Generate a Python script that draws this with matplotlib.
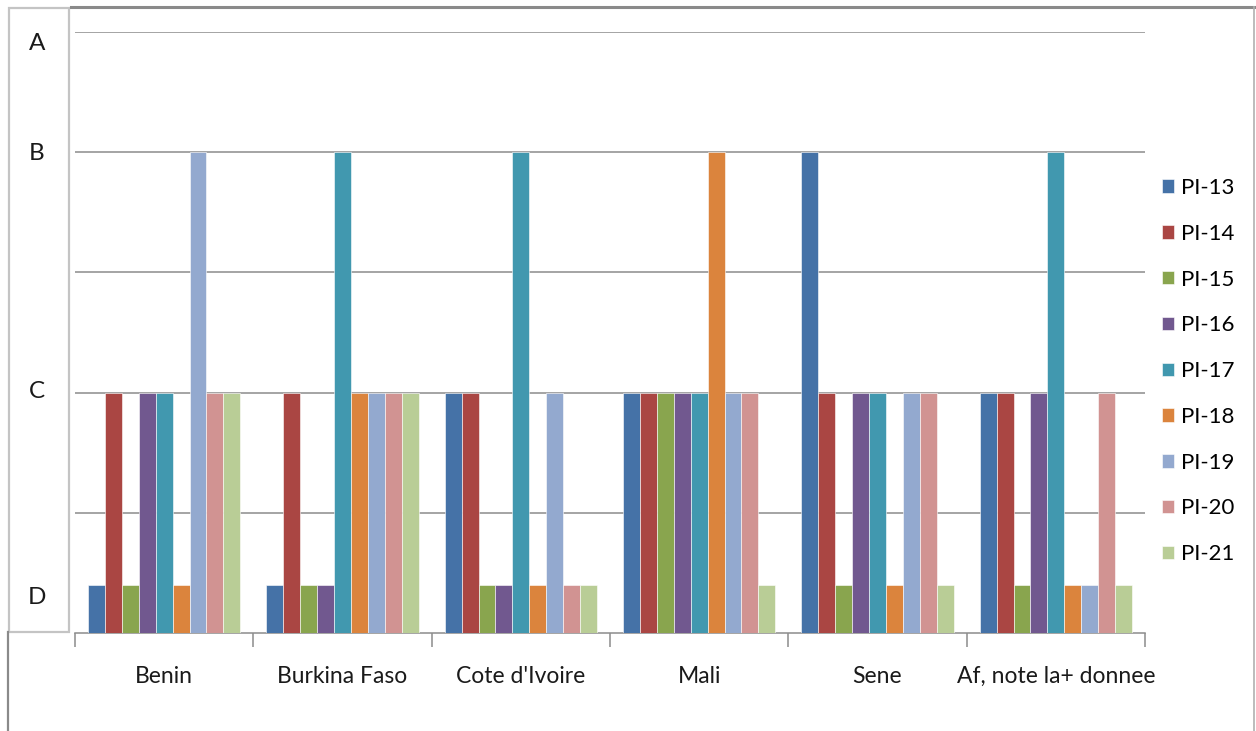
import numpy as np
import matplotlib.pyplot as plt
from matplotlib.lines import Line2D
from matplotlib.patches import Rectangle

plt.rcParams['font.family'] = ['Lato', 'DejaVu Sans']

# grade levels on the numeric scale
D, C, B = 0.4, 2, 4

pays = ['Benin', 'Burkina Faso', "Cote d'Ivoire", 'Mali', 'Sene', 'Af, note la+ donnee']
indicateurs = ['PI-13', 'PI-14', 'PI-15', 'PI-16', 'PI-17', 'PI-18', 'PI-19', 'PI-20', 'PI-21']
couleurs = ['#4572A7', '#AA4643', '#89A54E', '#71588F', '#4198AF',
            '#DB843D', '#93A9CF', '#D19392', '#B9CD96']

# une liste par indicateur, dans l'ordre des pays
pi13 = [D, D, C, C, B, C]
pi14 = [C, C, C, C, C, C]
pi15 = [D, D, D, C, D, D]
pi16 = [C, D, D, C, C, C]
pi17 = [C, B, B, C, C, B]
pi18 = [D, C, D, B, D, D]
pi19 = [B, C, C, C, C, D]
pi20 = [C, C, D, C, C, C]
pi21 = [C, C, D, D, D, D]
series = [pi13, pi14, pi15, pi16, pi17, pi18, pi19, pi20, pi21]

notes = ['A', 'B', 'C', 'D']
notes_y = [44, 153, 392, 597]  # position des lettres (pixels depuis le haut)

W, H = 1256, 731
fig = plt.figure(figsize=(W / 100, H / 100), dpi=100)
ax = fig.add_axes([75 / W, 1 - 633 / H, (1145 - 75) / W, (633 - 32) / H])

x = np.arange(len(pays))
larg = 0.853 / len(series)
for i, (vals, col, lab) in enumerate(zip(series, couleurs, indicateurs)):
    pos = x - 0.853 / 2 + larg * (i + 0.5)
    ax.bar(pos, vals, width=larg, color=col, label=lab, zorder=3,
           edgecolor='#ffffff', linewidth=0.4)

ax.set_xlim(-0.5, len(pays) - 0.5)
ax.set_ylim(0, 5)
ax.set_yticks([1, 2, 3, 4, 5])
ax.yaxis.grid(True, color='#8c8c8c', linewidth=1.1, zorder=0)
ax.tick_params(axis='y', left=False, labelleft=False)

ax.set_xticks(x)
ax.set_xticklabels(pays, fontsize=16.5, color='#1a1a1a')
ax.tick_params(axis='x', length=0, pad=24)
ax.set_xticks(np.arange(len(pays) + 1) - 0.5, minor=True)
ax.tick_params(axis='x', which='minor', length=10, color='#8c8c8c', width=1.1)

for s in ['top', 'right', 'left']:
    ax.spines[s].set_visible(False)
ax.spines['bottom'].set_color('#8c8c8c')
ax.spines['bottom'].set_linewidth(1.1)

leg = ax.legend(loc='upper left', bbox_to_anchor=(1.0159, 0.757), frameon=False,
                fontsize=16, handlelength=0.55, handleheight=0.55,
                handletextpad=0.3, labelspacing=1.16,
                borderaxespad=0, borderpad=0)

# cadre extérieur et boîte des lettres
fig.add_artist(Line2D([71 / W, 1255 / W], [1 - 7 / H, 1 - 7 / H],
                      color='#8a8a8a', linewidth=2.2))
fig.add_artist(Line2D([1254 / W, 1254 / W], [0, 1 - 7 / H],
                      color='#b0b0b0', linewidth=1.2))
fig.add_artist(Line2D([8 / W, 8 / W], [0, 1 - 632 / H],
                      color='#8a8a8a', linewidth=1.6))
fig.add_artist(Rectangle((9 / W, 1 - 632 / H), 60 / W, 624 / H,
                         fill=False, edgecolor='#c4c4c4', linewidth=1.6))

for lettre, py in zip(notes, notes_y):
    fig.text(37 / W, 1 - py / H, lettre, fontsize=17.5, ha='center', va='center',
             color='#1a1a1a')

plt.savefig('out.png', dpi=100)
